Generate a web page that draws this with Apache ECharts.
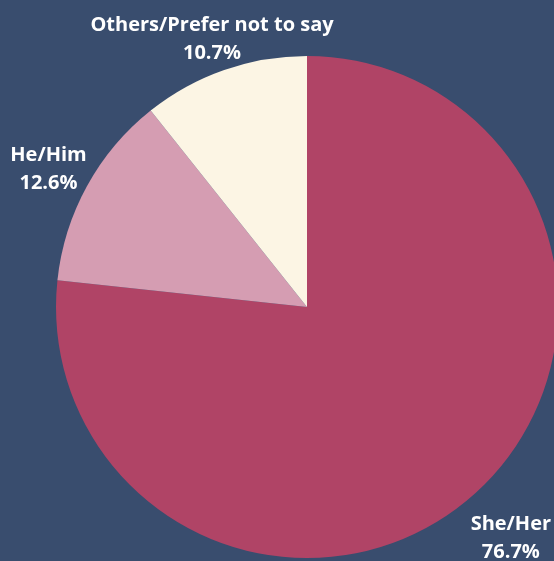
<!DOCTYPE html>
<html>
<head>
<meta charset="utf-8">
<style>
  html, body { margin: 0; padding: 0; background: #394d6e; }
  #chart { width: 554px; height: 561px; }
</style>
<script src="https://cdn.jsdelivr.net/npm/echarts@6/dist/echarts.min.js"></script>
</head>
<body>
<div id="chart"></div>
<script>
  // pronoun split, clockwise from 12 o'clock
  var labels = ['She/Her', 'He/Him', 'Others/Prefer not to say'];
  var values = [76.7, 12.6, 10.7];
  var colors = ['#b04466', '#d59db2', '#fcf5e4'];
  // how far each label sits outside the rim
  var labelGap = [54, 44, 37];

  var chart = echarts.init(document.getElementById('chart'));

  var data = labels.map(function (name, i) {
    return {
      name: name,
      value: values[i],
      itemStyle: { color: colors[i] },
      labelLine: { length: labelGap[i], length2: 0 }
    };
  });

  chart.setOption({
    backgroundColor: '#394d6e',
    animation: false,
    series: [
      {
        type: 'pie',
        center: [307, 307],
        radius: 251,
        startAngle: 90,
        clockwise: true,
        avoidLabelOverlap: false,
        data: data,
        itemStyle: { borderWidth: 0 },
        label: {
          position: 'outside',
          distanceToLabelLine: 0,
          color: '#ffffff',
          fontFamily: 'Open Sans',
          fontWeight: 'bold',
          fontSize: 20,
          lineHeight: 28,
          align: 'center',
          formatter: function (p) {
            return p.name + '\n' + p.value.toFixed(1) + '%';
          }
        },
        labelLine: { show: false },
        labelLayout: function () {
          return { align: 'center', verticalAlign: 'middle', dy: 4 };
        }
      }
    ]
  });
</script>
</body>
</html>
